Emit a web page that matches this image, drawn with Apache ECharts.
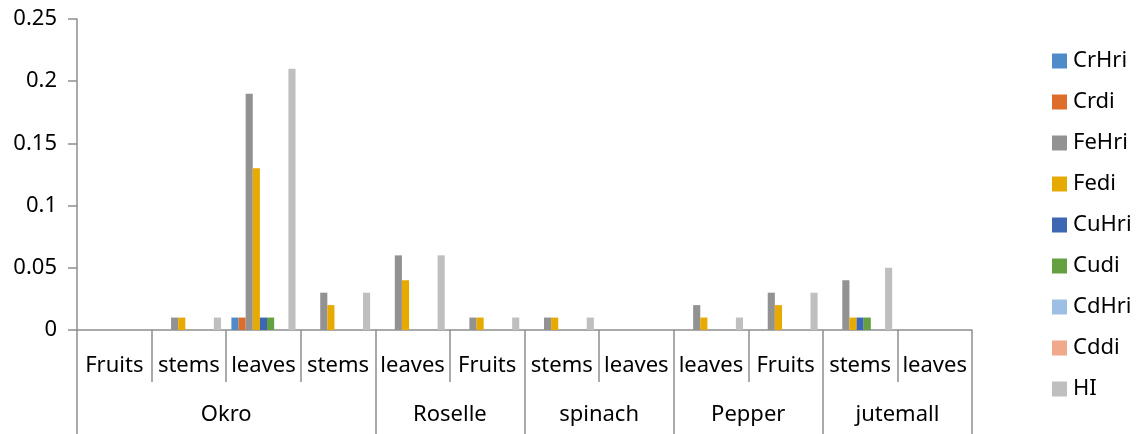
<!DOCTYPE html>
<html>
<head>
<meta charset="utf-8">
<script src="https://cdn.jsdelivr.net/npm/echarts@6/dist/echarts.min.js"></script>
<style>html,body{margin:0;padding:0;background:#fff}#c{width:1142px;height:434px}</style>
</head>
<body>
<div id="c"></div>
<script>
const categories = ['Fruits','stems','leaves','stems','leaves','Fruits','stems','leaves','leaves','Fruits','stems','leaves'];
const groups = ['Okro','Roselle','spinach','Pepper','jutemall'];
const groupSpans = [4,2,2,2,2];
const seriesNames = ['CrHri','Crdi','FeHri','Fedi','CuHri','Cudi','CdHri','Cddi','HI'];
const CrHri = [0,0,0.01,0,0,0,0,0,0,0,0,0];
const Crdi  = [0,0,0.01,0,0,0,0,0,0,0,0,0];
const FeHri = [0,0.01,0.19,0.03,0.06,0.01,0.01,0,0.02,0.03,0.04,0];
const Fedi  = [0,0.01,0.13,0.02,0.04,0.01,0.01,0,0.01,0.02,0.01,0];
const CuHri = [0,0,0.01,0,0,0,0,0,0,0,0.01,0];
const Cudi  = [0,0,0.01,0,0,0,0,0,0,0,0.01,0];
const CdHri = [0,0,0,0,0,0,0,0,0,0,0,0];
const Cddi  = [0,0,0,0,0,0,0,0,0,0,0,0];
const HI    = [0,0.01,0.21,0.03,0.06,0.01,0.01,0,0.01,0.03,0.05,0];
const yTicks = [0,0.05,0.1,0.15,0.2,0.25];

const seriesData = [CrHri,Crdi,FeHri,Fedi,CuHri,Cudi,CdHri,Cddi,HI];
const colors = ['#4f8bc9','#dc6d2b','#929292','#e6aa00','#3d66b3','#64a03f','#9dbfe4','#f0a98a','#bfbfbf'];

// group boundaries and centres on a 0..N scale
const bounds = [0]; const centres = [];
groupSpans.forEach(s => { const b = bounds[bounds.length-1]; centres.push(b + s/2); bounds.push(b + s); });

const font = 'Noto Sans';
const axisColor = '#8f8f8f';
const chart = echarts.init(document.getElementById('c'), null, {renderer:'canvas'});
chart.setOption({
  animation:false,
  color: colors,
  grid:{left:77, right:170, top:19, bottom:104, containLabel:false},
  legend:{
    orient:'vertical', left:1047, top:45,
    itemWidth:15, itemHeight:15, itemGap:19,
    icon:'rect',
    textStyle:{fontFamily:font, fontSize:22, color:'#000', lineHeight:22, padding:[0,0,0,1]},
    data: seriesNames
  },
  xAxis:[
    {
      type:'category', data:categories, position:'bottom',
      axisLine:{show:true, lineStyle:{color:axisColor, width:1.5}},
      axisTick:{show:true, interval:0, length:52, lineStyle:{color:axisColor, width:1.5}},
      axisLabel:{interval:0, margin:25, fontFamily:font, fontSize:22, color:'#000', lineHeight:22},
      splitLine:{show:false}
    },
    {
      type:'value', min:0, max:bounds[bounds.length-1], position:'bottom',
      axisLine:{show:false},
      axisTick:{show:true, customValues:bounds, length:104, lineStyle:{color:axisColor, width:1.5}},
      axisLabel:{show:true, customValues:centres, margin:74, fontFamily:font, fontSize:22, color:'#000', lineHeight:22,
        formatter:(v)=>{ const i = centres.indexOf(v); return i>=0 ? groups[i] : ''; }},
      splitLine:{show:false}
    }
  ],
  yAxis:{
    type:'value', min:yTicks[0], max:yTicks[yTicks.length-1], interval:0.05,
    axisLine:{show:true, lineStyle:{color:axisColor, width:1.5}},
    axisTick:{show:true, length:9, lineStyle:{color:axisColor, width:1.5}},
    axisLabel:{margin:20, fontFamily:font, fontSize:22, color:'#000'},
    splitLine:{show:false}
  },
  series: seriesNames.map((n,i)=>({
    name:n, type:'bar', xAxisIndex:0, data:seriesData[i],
    barGap:'0%', barCategoryGap:'14%'
  }))
});
</script>
</body>
</html>
